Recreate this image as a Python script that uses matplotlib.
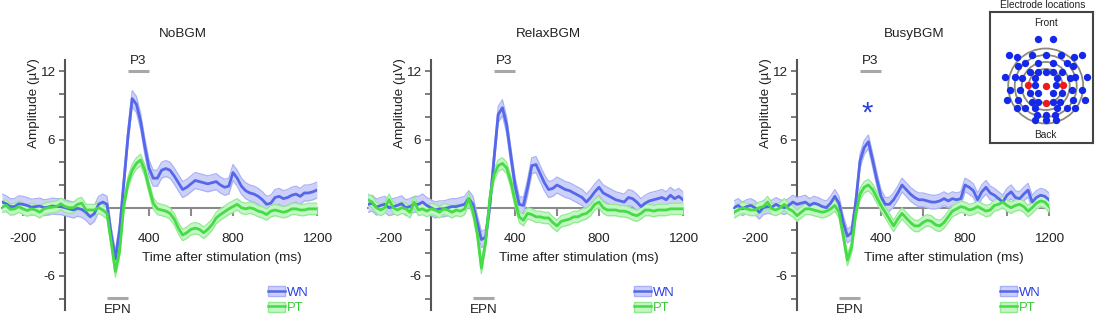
import numpy as np
import matplotlib
matplotlib.use("Agg")
import matplotlib.pyplot as plt
from matplotlib.patches import Patch, Circle
from matplotlib.lines import Line2D

plt.rcParams['font.family'] = ['Liberation Sans', 'DejaVu Sans']

# ---- data ----
conditions = ["NoBGM", "RelaxBGM", "BusyBGM"]
time_ms = np.arange(-300, 1201, 20)  # sampling grid of the grand averages

wn_nobgm = [0.5, 0.35, 0.1, 0.1, 0.35, 0.3, 0.2, 0.05, 0.1, 0.15, 0.0, 0.05, 0.15, 0.1, 0.1,
            0.0, -0.1, -0.2, -0.05, -0.15, -0.4, -0.8, -0.5, 0.3, 0.5,
            0.3, -2.4, -4.5, -2.0, 2.2, 6.3, 9.6, 9.1, 7.6, 5.4,
            3.5, 2.6, 2.6, 3.3, 3.45, 3.3, 2.8, 2.2, 1.6, 1.8,
            2.1, 2.4, 2.3, 2.2, 2.1, 2.2, 2.3, 2.0, 1.8, 1.9,
            3.1, 2.6, 1.9, 1.5, 1.3, 1.2, 1.0, 0.7, 0.3, 0.4,
            0.9, 1.0, 0.8, 0.9, 1.1, 1.2, 1.0, 1.3, 1.3, 1.4, 1.55]
pt_nobgm = [0.05, 0.2, -0.15, -0.1, 0.1, -0.1, -0.25, -0.1, -0.2, -0.4, -0.1, 0.0, 0.05, 0.1, 0.35,
            0.1, 0.0, 0.0, 0.3, 0.4, -0.2, -0.2, -0.2, 0.0, -0.2,
            -0.5, -3.0, -5.6, -3.8, 0.2, 2.2, 3.3, 3.9, 4.2, 3.3,
            1.8, 0.4, -0.1, -0.2, -0.3, -0.5, -1.0, -1.8, -2.4, -2.2,
            -1.9, -1.8, -1.9, -2.2, -1.9, -1.5, -0.9, -0.6, -0.35, -0.1,
            0.1, 0.3, 0.0, -0.1, 0.0, -0.1, -0.3, -0.4, -0.6, -0.3,
            -0.2, -0.3, -0.4, -0.3, -0.1, -0.1, -0.2, -0.2, -0.1, -0.1, -0.1]

wn_relax = [0.3, 0.4, 0.05, 0.2, 0.3, 0.0, 0.1, 0.2, 0.35, 0.0, 0.1, 0.3, 0.3, 0.5, 0.2,
            0.0, -0.2, -0.1, -0.1, 0.0, 0.1, 0.1, 0.2, 0.3, 0.8,
            0.3, -1.3, -2.8, -2.6, 0.2, 4.3, 8.2, 8.8, 7.3, 4.6,
            2.0, 0.3, 0.2, 1.8, 3.7, 3.8, 3.0, 2.2, 1.6, 1.7,
            2.0, 1.8, 1.6, 1.5, 1.3, 1.1, 0.9, 0.5, 0.9, 1.4,
            1.8, 1.3, 1.1, 0.9, 0.7, 0.6, 0.5, 0.9, 0.8, 0.5,
            0.1, 0.4, 0.6, 0.7, 0.8, 0.9, 0.7, 1.1, 0.8, 1.0, 0.7]
pt_relax = [0.7, 0.5, 0.0, -0.2, 0.0, 0.7, 0.0, -0.2, 0.0, -0.1, -0.4, 0.5, -0.2, -0.1, -0.3,
            -0.1, -0.2, -0.4, -0.1, -0.2, -0.4, -0.2, -0.3, -0.1, 0.8,
            -0.3, -2.2, -5.3, -3.0, 0.8, 2.9, 3.7, 3.9, 3.5, 2.3,
            0.6, -0.8, -1.1, -0.5, -0.6, -0.8, -0.8, -0.9, -0.9, -1.3,
            -1.6, -1.2, -1.1, -1.0, -0.8, -0.8, -0.6, -0.5, -0.2, 0.3,
            0.5, 0.0, -0.2, -0.2, -0.2, -0.3, -0.3, -0.4, -0.6, -0.7,
            -0.5, -0.2, -0.2, -0.3, -0.2, -0.2, -0.2, -0.1, -0.1, -0.1, -0.1]

wn_busy = [0.0, 0.2, -0.1, 0.1, 0.2, 0.0, -0.4, 0.0, 0.1, 0.05, 0.3, 0.1, 0.0, 0.2, 0.5,
           0.3, 0.4, 0.5, 0.2, 0.4, 0.3, 0.1, 0.0, 0.4, 1.0,
           0.4, -1.3, -2.5, -2.2, 0.5, 4.1, 5.3, 5.8, 4.2, 2.5,
           1.0, 0.3, 0.3, 0.7, 1.3, 2.0, 1.6, 1.2, 0.9, 0.7,
           0.7, 0.6, 0.5, 0.5, 0.6, 0.8, 0.6, 0.8, 0.7, 0.8,
           2.0, 1.8, 1.5, 0.7, 1.4, 1.8, 1.3, 1.1, 0.8, 0.5,
           1.1, 1.4, 0.9, 0.8, 1.2, 1.55, 0.5, 0.9, 1.1, 1.0, 0.7]
pt_busy = [-0.4, -0.2, 0.0, -0.1, -0.2, -0.2, 0.0, 0.1, 0.5, -0.1, -0.2, 0.0, 0.3, -0.1, -0.3,
           -0.7, -0.4, -0.1, -0.1, -0.2, -0.3, -0.4, -0.3, -0.1, 0.2,
           -0.4, -2.4, -4.6, -3.5, -0.5, 1.2, 1.8, 2.0, 1.6, 0.9,
           0.2, -0.4, -1.0, -1.6, -1.0, -0.5, -0.9, -1.3, -1.6, -1.6,
           -1.3, -1.1, -1.2, -1.5, -1.6, -1.3, -0.8, -0.3, -0.1, 0.1,
           0.0, -0.2, -0.1, 0.1, -0.1, -0.3, -0.2, 0.2, 0.3, 0.5,
           0.2, 0.0, 0.2, 0.3, 0.1, -0.3, 0.0, 0.4, 0.6, 0.5, 0.1]

wn_series = [wn_nobgm, wn_relax, wn_busy]
pt_series = [pt_nobgm, pt_relax, pt_busy]
wn_sem = [0.7, 0.7, 0.6]
pt_sem = [0.5, 0.5, 0.5]

p3_window = (300, 400)
epn_window = (200, 300)
significant = [False, False, True]

# electrode layout (px offsets from the vertex, y up)
elec_x = [-7.3, 7.7,
          -36.7, -14, 0, 15.3, 36.7, -29, 28.7,
          -20.7, -7.3, 7.7, 21, -27.3, 27.7,
          -15.7, -7.3, 0, 7.7, 16,
          -40.7, -30.7, 29.3, 41, -24, -10.7, 11, 24.3,
          -10.7, 10,
          -35.7, -25.7, 26, 36, -15.7, -7.3, 7.7, 16,
          -39, -27.3, 27.7, 39.3, -14, -7.3, 7.7, 14.3,
          -29, -20.7, -10.7, 11, 21, 29.3,
          -9, 0, 9.3, -10.7, 0, 10]
elec_y = [46.7, 46.7,
          31, 31, 31, 31, 31, 28.7, 28.7,
          22.7, 22.7, 22.7, 22.7, 20, 20,
          14.3, 14.3, 14.3, 14.3, 14.3,
          9.3, 9.3, 9.3, 9.3, 7.7, 7.7, 7.7, 7.7,
          1, 1,
          -4, -4, -4, -4, -7.3, -7.3, -7.3, -7.3,
          -14, -14, -14, -14, -15.7, -15.7, -15.7, -15.7,
          -22.3, -22.3, -22.3, -22.3, -22.3, -22.3,
          -29, -29, -29, -34, -34, -34]
roi_x = [-17.4, 0, 17.6, 0]
roi_y = [1, 0.3, 1, -16.7]
ring_radii = [17, 24, 31, 37.5]

# ---- style ----
wn_line, wn_fill, wn_edge, wn_text = "#5567ea", "#cdd1fa", "#a9b2f3", "#2b3fe0"
pt_line, pt_fill, pt_edge, pt_text = "#45dc45", "#c4f5c4", "#93ea93", "#35c935"
txt = "#222222"

fig = plt.figure(figsize=(11, 3.19), dpi=100)
W, H = 1100, 319
panel_left = [2, 368, 734]
xlabel_pos = [745, 705, 700]

for i, cond in enumerate(conditions):
    ax = fig.add_axes([panel_left[i] / W, 9 / H, 315 / W, 250 / H])
    ax.set_xlim(-300, 1200)
    ax.set_ylim(-9, 13)

    for vals, sem, lc, fc, ec in [(wn_series[i], wn_sem[i], wn_line, wn_fill, wn_edge),
                                  (pt_series[i], pt_sem[i], pt_line, pt_fill, pt_edge)]:
        y = np.array(vals)
        ax.fill_between(time_ms, y - sem, y + sem, color=fc, lw=0, zorder=3)
        ax.plot(time_ms, y - sem, color=ec, lw=0.9, zorder=3)
        ax.plot(time_ms, y + sem, color=ec, lw=0.9, zorder=3)
        ax.plot(time_ms, y, color=lc, lw=2.0, zorder=4)

    for s in ["top", "right"]:
        ax.spines[s].set_visible(False)
    ax.spines["left"].set_position(("data", 0))
    ax.spines["bottom"].set_position(("data", 0))
    ax.spines["left"].set_color("#555555")
    ax.spines["left"].set_linewidth(1.5)
    ax.spines["bottom"].set_color("#8a8a8a")
    ax.spines["bottom"].set_linewidth(1.5)

    ax.set_xticks(range(-200, 1201, 200))
    ax.set_xticklabels(["-200", "", "", "400", "", "800", "", "1200"])
    ax.set_yticks(range(-8, 13, 2))
    ax.set_yticklabels(["", "-6", "", "", "", "", "", "6", "", "", "12"])
    ax.tick_params(axis="x", direction="out", length=6, width=1.5, color="#8a8a8a",
                   pad=12, labelsize=9.7, labelcolor=txt)
    ax.tick_params(axis="y", direction="out", length=4, width=1.2, color="#666666",
                   pad=3, labelsize=9.7, labelcolor=txt)

    ax.text(560, 15.3, cond, ha="center", va="center", fontsize=9.7, color=txt)
    ax.text(-150, 9.2, "Amplitude (µV)", rotation=90, ha="center", va="center",
            fontsize=9.7, color=txt)
    ax.text(xlabel_pos[i], -4.4, "Time after stimulation (ms)", ha="center", va="center",
            fontsize=9.7, color=txt)

    # component windows
    ax.plot(p3_window, [12, 12], color="#a8a8a8", lw=2.2, solid_capstyle="butt", clip_on=False)
    ax.text(np.mean(p3_window) - 2, 12.9, "P3", ha="center", va="center", fontsize=9.7, color=txt)
    ax.plot(epn_window, [-7.9, -7.9], color="#a8a8a8", lw=2.2, solid_capstyle="butt", clip_on=False)
    ax.text(np.mean(epn_window), -9.0, "EPN", ha="center", va="center", fontsize=9.7,
            color=txt, clip_on=False)
    if significant[i]:
        ax.text(332, 8.3, "*", ha="center", va="center", fontsize=21, color=wn_text)

    handles = [(Patch(facecolor=wn_fill, edgecolor=wn_edge, lw=1), Line2D([], [], color=wn_line, lw=1.8)),
               (Patch(facecolor=pt_fill, edgecolor=pt_edge, lw=1), Line2D([], [], color=pt_line, lw=1.8))]
    leg = ax.legend(handles, ["WN", "PT"], loc="upper left", bbox_to_anchor=(0.843, 0.096),
                    frameon=False, borderpad=0, borderaxespad=0, fontsize=9.4,
                    handlelength=1.3, handleheight=0.85, handletextpad=0.2, labelspacing=0.22)
    for t, c in zip(leg.get_texts(), [wn_text, pt_text]):
        t.set_color(c)

# ---- electrode map inset ----
axm = fig.add_axes([990 / W, (H - 143) / H, 103 / W, 131 / H])
axm.set_xlim(-55.7, 47.3)
axm.set_ylim(-57, 74)
axm.set_xticks([])
axm.set_yticks([])
for s in axm.spines.values():
    s.set_color("#444444")
    s.set_linewidth(1.5)
for r in ring_radii:
    axm.add_patch(Circle((0, 0), r, fill=False, ec="#8c8c78", lw=1.3, zorder=1))
axm.scatter(elec_x, elec_y, s=28, color="#1428e8", lw=0, zorder=2)
axm.scatter(roi_x, roi_y, s=28, color="#ee1a1a", lw=0, zorder=3)
axm.text(0, 63, "Front", ha="center", va="center", fontsize=7.3, color=txt)
axm.text(0, -49, "Back", ha="center", va="center", fontsize=7.3, color=txt)
fig.text(1043 / W, 1 - 5 / H, "Electrode locations", ha="center", va="center",
         fontsize=7.3, color=txt)

fig.savefig("out.png", dpi=100)
